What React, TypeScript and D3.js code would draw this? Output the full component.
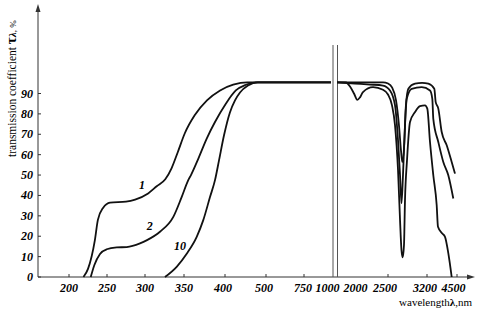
import React from "react";
import * as d3 from "d3";

// x-axis: broken wavelength scale (nm)
const leftTicks = [200, 250, 300, 350, 400, 500, 750, 1000];
const rightTicks = [2000, 2500, 3200, 4500];
const yTicks = [0, 10, 20, 30, 40, 50, 60, 70, 80, 90];

// curve 1
const c1Left: [number, number][] = [
  [219, 0], [225, 4], [234, 18], [238, 28], [245, 34], [254, 36.5], [275, 37], [287, 38],
  [304, 41], [315, 44.5], [326, 47.9], [334, 53.3], [342, 61.2], [351, 70.5], [363, 79.3],
  [378, 86.6], [394, 91.5], [420, 94.3], [454, 95.5], [1000, 95.5],
];
const c1Right: [number, number][] = [
  [1000, 95.5], [2404, 95.5], [2500, 94.9], [2572, 93], [2644, 86.6], [2697, 74.4], [2733, 62.1],
  [2757, 56.4], [2793, 66.2], [2818, 82.7], [2865, 92.3], [2985, 94.8], [3111, 95.2], [3256, 94.8],
  [3516, 92.3], [3577, 85.8], [3690, 82.6], [3837, 71.1], [4054, 64.6], [4270, 56.4], [4413, 50.7],
];
// curve 2
const c2Left: [number, number][] = [
  [228.6, 0], [233.4, 5.9], [240.8, 11.3], [249.6, 13.6], [262.8, 14.5], [275.9, 14.7], [293.4, 16.5],
  [302.6, 18.1], [319.2, 22.2], [336.3, 29.5], [347.1, 39.3], [355.2, 47.5], [358.5, 50], [367.5, 58.1],
  [377.7, 67.9], [387.8, 76], [402, 85], [426.4, 91.5], [450.8, 94.3], [475, 95.5], [1000, 95.5],
];
const c2Right: [number, number][] = [
  [1000, 95.5], [1720, 94.9], [2154, 94.4], [2404, 93.9], [2536, 91.5], [2626, 84.2], [2680, 67],
  [2716, 49.9], [2742, 36.2], [2769, 49.9], [2805, 74.4], [2836, 87.4], [2925, 92.3], [3105, 93.1],
  [3330, 91.5], [3430, 87.4], [3473, 77.6], [3690, 66.2], [3906, 56.4], [4123, 49.9], [4340, 38.5],
];
// curve 10
const c10Left: [number, number][] = [
  [325.6, 0], [340.6, 5], [353.3, 11.4], [365.5, 19.7], [373.5, 27.9], [381.7, 39.2], [387.8, 47.5],
  [392.7, 57.2], [398.8, 69.5], [412, 80.7], [424.4, 86.6], [436.6, 90.5], [456, 93.9], [480, 95.5],
  [1000, 95.5],
];
const c10Right: [number, number][] = [
  [1000, 95.5], [1360, 95.4], [1520, 93.4], [1680, 90], [1812, 86.9], [1920, 88.1], [2019, 90.7],
  [2212, 93.1], [2404, 91.8], [2500, 89.5], [2572, 84.2], [2626, 74.4], [2680, 52.4], [2716, 27.9],
  [2742, 13.2], [2764, 9.6], [2787, 15.7], [2805, 37.7], [2841, 57.2], [2895, 76], [2985, 80.9],
  [3074, 83.8], [3164, 84.2], [3213, 82.6], [3330, 66.2], [3473, 49.9], [3620, 35.2], [3676, 24.6],
  [3850, 21.5], [3980, 19.7], [4123, 11.7], [4270, 0],
];

const curveLabels = [
  { text: "1", x: 296, y: 45 },
  { text: "2", x: 306, y: 25 },
  { text: "10", x: 345, y: 15 },
];

const xLeft = d3.scaleLinear()
  .domain([160, 200, 250, 300, 350, 400, 500, 750, 1000])
  .range([38, 69, 107, 145, 184, 225, 266, 304, 331]);
const xRight = d3.scaleLinear()
  .domain([1000, 2000, 2500, 3200, 4500])
  .range([337, 362, 388, 427, 457]);
const y = d3.scaleLinear().domain([0, 90]).range([277, 93.5]);

const lineL = d3.line<[number, number]>().x(d => xLeft(d[0])).y(d => y(d[1])).curve(d3.curveMonotoneX);
const lineR = d3.line<[number, number]>().x(d => xRight(d[0])).y(d => y(d[1])).curve(d3.curveMonotoneX);

const serif = "'Liberation Serif', 'Times New Roman', serif";
const leftLabelShift: Record<number, number> = { 200: 0, 250: 0, 300: 0, 350: 0, 400: -2, 500: -2, 750: -1, 1000: -3.5 };
const rightLabelShift: Record<number, number> = { 2000: -6.5, 2500: -3, 3200: -2, 4500: -3.5 };

export default function App() {
  const x0 = 38, y0 = 277;
  return (
    <svg width={480} height={315} style={{ position: "absolute", left: 0, top: 0, background: "#fff" }}
      fontFamily={serif}>
      <rect width={480} height={315} fill="#fff" />
      {/* axes */}
      <line x1={x0} y1={y0} x2={x0} y2={8} stroke="#333" strokeWidth={1} />
      <path d={`M${x0},4 L${x0 - 2.5},12 L${x0 + 2.5},12 Z`} fill="#333" />
      <line x1={x0} y1={y0} x2={470} y2={y0} stroke="#333" strokeWidth={1} />
      <path d={`M475,${y0} L467,${y0 - 2.5} L467,${y0 + 2.5} Z`} fill="#333" />
      {/* break lines */}
      <line x1={333} y1={45} x2={333} y2={y0} stroke="#555" strokeWidth={1} />
      <line x1={337.5} y1={45} x2={337.5} y2={y0} stroke="#555" strokeWidth={1} />
      {/* y ticks */}
      {yTicks.map(t => (
        <g key={t}>
          <line x1={x0} x2={x0 + 3} y1={y(t)} y2={y(t)} stroke="#333" />
          <text x={33} y={y(t) + 4} textAnchor="end" fontSize={12} fontWeight="bold" fontStyle="italic">{t}</text>
        </g>
      ))}
      {/* x ticks */}
      {leftTicks.map(t => (
        <g key={"l" + t}>
          {t !== 1000 && <line x1={xLeft(t)} x2={xLeft(t)} y1={y0} y2={y0 - 3} stroke="#333" />}
          <text x={xLeft(t) + leftLabelShift[t]} y={292} textAnchor="middle" fontSize={12} fontWeight="bold"
            fontStyle="italic">{t}</text>
        </g>
      ))}
      {rightTicks.map(t => (
        <g key={"r" + t}>
          {t !== 2000 && <line x1={xRight(t)} x2={xRight(t)} y1={y0} y2={y0 - 3} stroke="#333" />}
          <text x={xRight(t) + rightLabelShift[t]} y={292} textAnchor="middle" fontSize={12} fontWeight="bold"
            fontStyle="italic">{t}</text>
        </g>
      ))}
      {/* curves */}
      {[c1Left, c2Left, c10Left].map((d, i) => (
        <path key={"cl" + i} d={lineL(d) || ""} fill="none" stroke="#111" strokeWidth={1.8} />
      ))}
      {[c1Right, c2Right, c10Right].map((d, i) => (
        <path key={"cr" + i} d={lineR(d) || ""} fill="none" stroke="#111" strokeWidth={1.8} />
      ))}
      {curveLabels.map(l => (
        <text key={l.text} x={xLeft(l.x)} y={y(l.y) + 4} textAnchor="middle" fontSize={12}
          fontWeight="bold" fontStyle="italic">{l.text}</text>
      ))}
      {/* axis titles */}
      <text transform="translate(16,157) rotate(-90)" fontSize={11.5} textAnchor="start">
        transmission coefficient{" "}
        <tspan fontSize={15} fontWeight="bold">τ</tspan>
        <tspan fontSize={11} fontWeight="bold" fontStyle="italic">λ</tspan>
        <tspan fontSize={9}>, %</tspan>
      </text>
      <text x={472} y={306} textAnchor="end" fontSize={11}>
        wavelength<tspan fontWeight="bold">λ</tspan>,nm
      </text>
    </svg>
  );
}
